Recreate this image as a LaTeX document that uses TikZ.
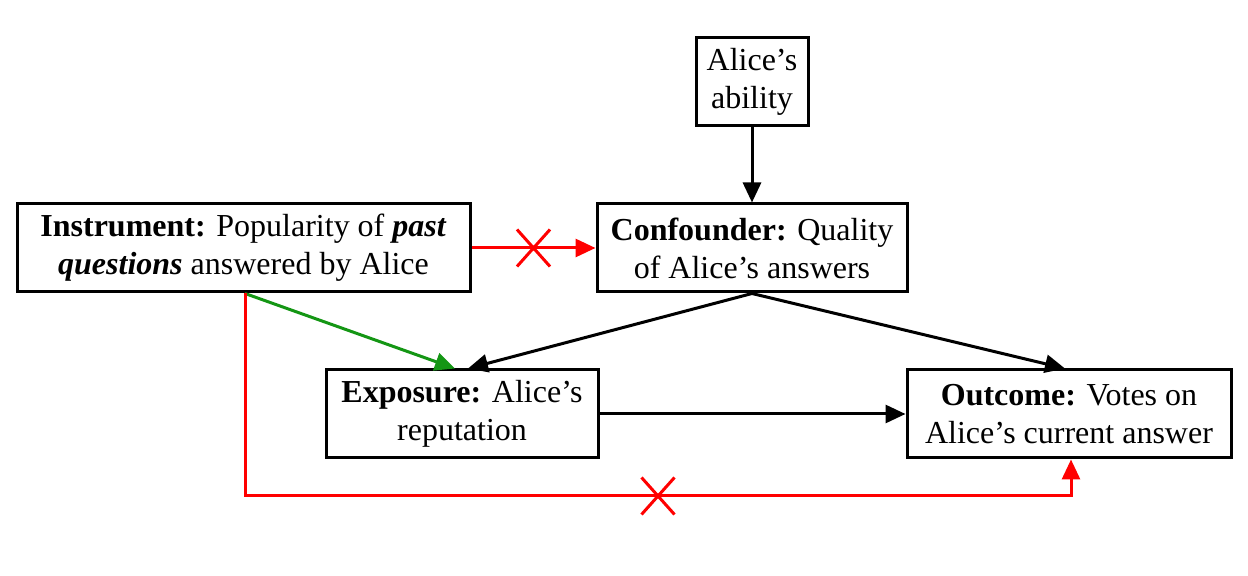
\documentclass[tikz,border=0pt]{standalone}
\usepackage{fontspec}
\setmainfont{Liberation Serif}
\usepackage{tikz}
\tikzset{
  box_font/.style = {font=\fontsize{16}{19}\selectfont},
  box_line/.style = {draw, line width=1.5pt}
}
\tikzset{
  box/.style = {box_font, box_line, align=center, inner sep=0},
  link/.style = {line width=1.5pt, -{Triangle[length=10pt,width=9pt]}},
  red_link/.style = {link, red},
  green_link/.style = {link, draw=green_dark},
  cross_mark/.style = {cross out, draw=red, line width=1.5pt, minimum width=15pt, minimum height=17pt, inner sep=0, sloped=false}
}
\definecolor{green_dark}{RGB}{20,150,20}
\usetikzlibrary{arrows.meta, shapes.misc, positioning}

\begin{document}
\begin{tikzpicture}[x=0.5pt, y=-0.5pt]
        \useasboundingbox (0,0) rectangle (1248,576);

        % Variables
        \node[box, minimum width=56pt, minimum height=44pt] at (752,82) (abil) {
            Alice's\\ ability};
        \node[box, minimum width=226.5pt, minimum height=44pt] at (243.5,248) (inst) {
            \textbf{Instrument:} Popularity of \textbf{\textit{past}}\\
            \textbf{\textit{questions}} answered by Alice};
        \node[box, minimum width=155pt, minimum height=44pt] at (752,248) (conf) {
            \textbf{Confounder:} Quality\\ of Alice's answers};
        \node[box, minimum width=136pt, minimum height=44pt] at (462,414) (expo) {
            \textbf{Exposure:} Alice's\\ reputation};
        \node[box, minimum width=162pt, minimum height=44pt] at (1069,414) (outc) {
            \textbf{Outcome:} Votes on\\ Alice's current answer};

        % Arrows
        \draw[link] (abil.south)--(conf.north);
        \draw[link] (conf.south)--([xshift=3pt]expo.north);
        \draw[link] (conf.south)--([xshift=-2pt]outc.north);
        \draw[link] (expo.east)--(outc.east -| outc.west);
        \draw[green_link] ([xshift=0.75pt]inst.south)--([xshift=-3.5pt]expo.north);

        % Blocked paths
        \draw[red_link] (inst.east)-- node[cross_mark] (x_1) {} (conf.west);
        \coordinate (c_1) at ([xshift=0.75pt]inst.south |- 0,496);
        \coordinate (c_2) at ([xshift=1pt]outc.south |- 0,496);
        \draw[red_link] ([xshift=0.75pt]inst.south)--(c_1)-- node[cross_mark] (x_2) {} (c_2)--([xshift=1pt]outc.south);
\end{tikzpicture}
\end{document}
